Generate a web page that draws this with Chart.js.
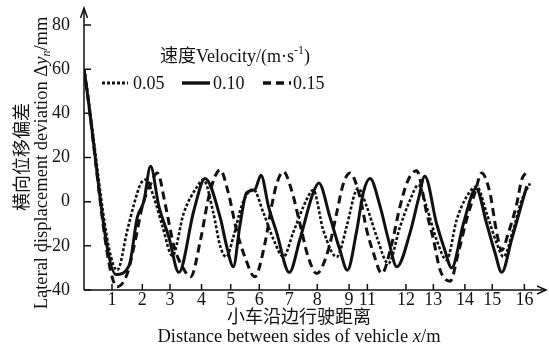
<!DOCTYPE html>
<html>
<head>
<meta charset="utf-8">
<script src="https://cdn.jsdelivr.net/npm/chart.js@4.4.0/dist/chart.umd.min.js"></script>
<style>
html,body{margin:0;padding:0;background:#fff;}
#wrap{width:549px;height:348px;position:relative;}
</style>
</head>
<body>
<div id="wrap"><canvas id="c" width="549" height="348"></canvas></div>
<script>
// ---- data (x in axis units, y in mm) ----
const xTickPos = [1.0, 2.03, 2.97, 4.04, 5.03, 6.0, 7.02, 7.97, 9.05, 9.67, 10.98, 11.91, 12.98, 13.91, 15.0];
const xTickLabels = ['1','2','3','4','5','6','7','8','9','11','12','13','14','15','16'];
const yTickVals = [-40, -20, 0, 20, 40, 60, 80];
const seriesNames = ['0.05', '0.10', '0.15'];

const dottedX = [0.05,1.18,1.52,1.75,1.97,2.15,2.42,2.71,3.05,3.44,3.9,4.1,4.44,4.67,4.88,5.12,5.4,5.68,5.8,6.14,6.48,6.82,7.15,7.61,7.83,8.17,8.63,8.97,9.25,9.36,9.65,9.99,10.38,10.78,11.12,11.4,11.68,12.02,12.36,12.7,13.04,13.38,13.72,14.06,14.29,14.62,14.91,15.19];
const dottedY = [60,-31,-13,-1,8,10,2,-11,-24.5,-5,7,10,-5,-20,-25,-16,-2,5,5.5,-5,-17,-25,-14,1,5.3,-12.8,-25,-11,4,6,-2.3,-16,-28,-11.3,0.8,7.6,-2.3,-17.3,-26.4,-8.3,2.3,6.8,-5.3,-18.8,-25,-12.8,0.8,8.3];

const solidX = [0.05,1.14,1.58,1.86,2.08,2.31,2.59,2.93,3.27,3.78,4.16,4.67,4.89,5.12,5.34,5.57,5.85,6.06,6.31,6.59,7.02,7.38,7.83,8.02,8.4,8.74,8.99,9.31,9.53,9.76,10.1,10.38,10.67,11.12,11.4,11.62,12.02,12.3,12.53,12.93,13.36,13.72,14.0,14.23,14.57,14.91,15.08];
const solidY = [60,-33,-29,-7,0,16,-2,-16,-32,-4,10.5,-7,-20,-29.5,-11,4,5.5,12,-2,-14,-32,-17,4,8.5,-7,-22,-31,-13,4,10.5,-2,-17,-29.5,-14,1,11.5,-10,-22,-30,-10,6,-10,-23,-32,-17,-1,7];

const dashedX = [0.05,1.18,1.52,1.8,2.03,2.31,2.54,2.82,3.1,3.39,3.67,4.01,4.3,4.67,4.95,5.23,5.51,5.85,6.19,6.42,6.59,6.82,7.1,7.38,7.66,7.95,8.34,8.63,8.85,9.08,9.42,9.65,9.87,10.16,10.5,10.78,11.06,11.34,11.68,11.91,12.14,12.48,12.76,13.04,13.32,13.55,13.83,14.06,14.23,14.46,14.74,14.91,15.08];
const dashedY = [60,-38.5,-32.5,-17,-2,8,13,-2,-20,-29.5,-34,-17,3,14.4,4,-13,-25,-34,-19,-2,8,13.6,5,-10,-25,-32.5,-22,-5,8,13,2,-13,-23,-32.5,-19,-2,10,14,-5,-17,-31,-36,-23,-8,4,13,4,-14,-22,-14,-1,10,13.6];

function pts(xs, ys){ return xs.map((x,i)=>({x:x, y:ys[i]})); }

const SERIF = '"Liberation Serif", "Noto Sans CJK SC", serif';
const INK = '#111';

const styles = [
  {borderDash:[3,2], borderWidth:2.6},
  {borderDash:[], borderWidth:3},
  {borderDash:[8,5], borderWidth:3}
];

function drawRuns(ctx, runs, x, y){
  let cx = x;
  runs.forEach(r=>{
    ctx.font = r.f;
    ctx.fillText(r.t, cx, y + (r.dy||0));
    cx += ctx.measureText(r.t).width;
  });
}
function runsWidth(ctx, runs){
  let w = 0;
  runs.forEach(r=>{ ctx.font = r.f; w += ctx.measureText(r.t).width; });
  return w;
}

const decor = {
  id:'decor',
  afterDraw(chart){
    const ctx = chart.ctx, ca = chart.chartArea;
    const xs = chart.scales.x, ys = chart.scales.y;
    ctx.save();
    ctx.strokeStyle = INK; ctx.fillStyle = INK; ctx.lineWidth = 1.5;
    const x0 = ca.left, y0 = ca.bottom;
    ctx.beginPath();
    ctx.moveTo(x0, y0); ctx.lineTo(546, y0);
    ctx.moveTo(x0, y0); ctx.lineTo(x0, 8);
    ctx.stroke();
    // arrows
    ctx.beginPath();
    ctx.moveTo(537, y0-4); ctx.lineTo(546, y0); ctx.lineTo(537, y0+4);
    ctx.moveTo(x0-3.5, 18); ctx.lineTo(x0, 8); ctx.lineTo(x0+3.5, 18);
    ctx.stroke();
    // tick marks (inward)
    ctx.beginPath();
    yTickVals.forEach(v=>{ const p = ys.getPixelForValue(v); ctx.moveTo(x0, p); ctx.lineTo(x0+7, p); });
    xTickPos.forEach(v=>{ const p = xs.getPixelForValue(v); ctx.moveTo(p, y0); ctx.lineTo(p, y0-6); });
    ctx.stroke();

    ctx.textBaseline = 'middle';
    const F = '18px ' + SERIF, FI = 'italic 18px ' + SERIF, FS = '12px ' + SERIF, FSI = 'italic 12px ' + SERIF;
    const FY = '18.5px ' + SERIF, FYI = 'italic 18.5px ' + SERIF;
    // x titles
    ctx.textAlign = 'center';
    ctx.font = F;
    ctx.fillText('小车沿边行驶距离', 299, 318);
    ctx.textAlign = 'left';
    let xr = [{t:'Distance between sides of vehicle ', f:FY},{t:'x', f:FYI},{t:'/m', f:FY}];
    drawRuns(ctx, xr, 299 - runsWidth(ctx, xr)/2, 337);

    // y titles (rotated)
    ctx.save();
    ctx.translate(23, 157); ctx.rotate(-Math.PI/2);
    ctx.textAlign = 'center'; ctx.font = F;
    ctx.fillText('横向位移偏差', 0, 0);
    ctx.restore();
    ctx.save();
    ctx.translate(42, 163); ctx.rotate(-Math.PI/2);
    ctx.textAlign = 'left';
    let yr = [{t:'Lateral displacement deviation \u0394', f:FY},{t:'y', f:FYI},{t:'n', f:FSI, dy:5},{t:'/mm', f:FY}];
    drawRuns(ctx, yr, -runsWidth(ctx, yr)/2, 0);
    ctx.restore();

    // legend title
    ctx.textAlign = 'left';
    let lt = [{t:'速度Velocity/(m·s', f:F},{t:'-1', f:FS, dy:-6},{t:')', f:F}];
    drawRuns(ctx, lt, 235 - runsWidth(ctx, lt)/2, 57);

    // legend entries
    const entries = [
      {x1:102, x2:128, tx:133},
      {x1:182, x2:210, tx:213},
      {x1:263, x2:291, tx:293}
    ];
    entries.forEach((e,i)=>{
      const ds = chart.data.datasets[i];
      ctx.save();
      ctx.lineWidth = ds.borderWidth + 0.4;
      ctx.setLineDash(ds.borderDash);
      ctx.beginPath(); ctx.moveTo(e.x1, 83); ctx.lineTo(e.x2, 83); ctx.stroke();
      ctx.restore();
      ctx.font = F;
      ctx.fillText(seriesNames[i], e.tx, 84);
    });
    ctx.restore();
  }
};

new Chart(document.getElementById('c'), {
  type:'line',
  data:{
    datasets:[
      Object.assign({label:seriesNames[0], data:pts(dottedX, dottedY)}, styles[0]),
      Object.assign({label:seriesNames[1], data:pts(solidX, solidY)}, styles[1]),
      Object.assign({label:seriesNames[2], data:pts(dashedX, dashedY)}, styles[2])
    ].map(d=>Object.assign(d, {borderColor:INK, backgroundColor:INK, pointRadius:0, fill:false, cubicInterpolationMode:'monotone', borderCapStyle:'butt'}))
  },
  options:{
    responsive:false,
    animation:false,
    layout:{padding:{top:25, right:9, left:0, bottom:0}},
    plugins:{legend:{display:false}, tooltip:{enabled:false}},
    scales:{
      x:{
        type:'linear', min:0.05, max:15.53,
        grid:{display:false}, border:{display:false},
        afterBuildTicks:(s)=>{ s.ticks = xTickPos.map(v=>({value:v})); },
        afterFit:(s)=>{ s.height = 58; },
        ticks:{autoSkip:false, maxRotation:0, padding:-9, color:INK, font:{family:SERIF, size:18},
          callback:(v,i)=>xTickLabels[i]}
      },
      y:{
        min:-40, max:80,
        grid:{display:false}, border:{display:false},
        afterBuildTicks:(s)=>{ s.ticks = yTickVals.map(v=>({value:v})); },
        afterFit:(s)=>{ s.width = 84; },
        ticks:{padding:6, color:INK, font:{family:SERIF, size:18}}
      }
    }
  },
  plugins:[decor]
});
</script>
</body>
</html>
